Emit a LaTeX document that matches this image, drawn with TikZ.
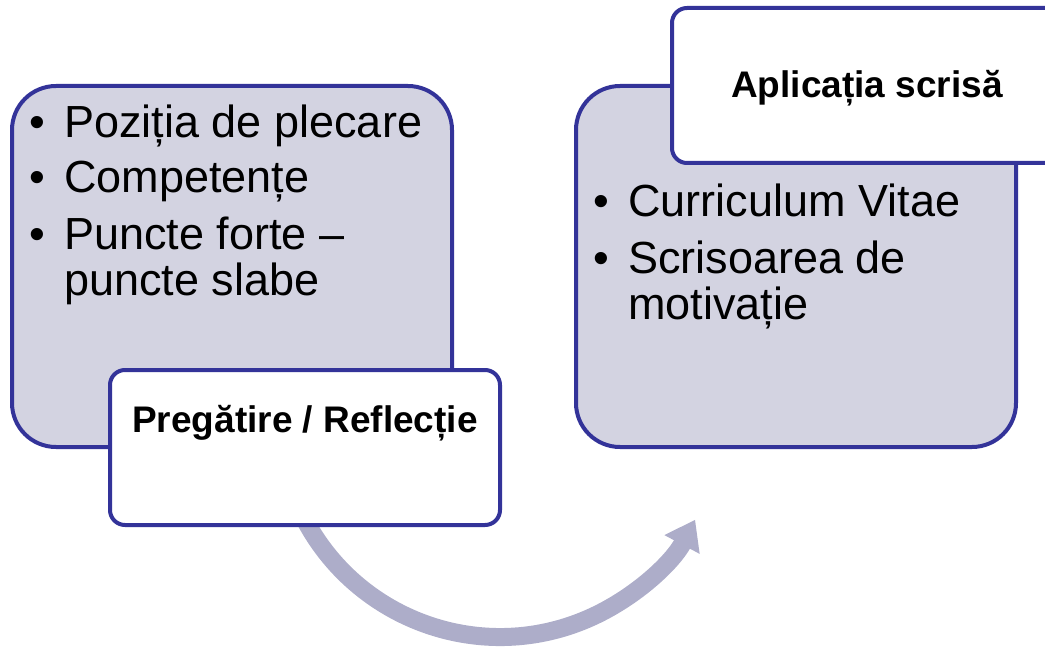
\documentclass[tikz,border=0pt]{standalone}
\usepackage{fontspec}
\setmainfont{Liberation Sans}
\usepackage{tikz}
\usetikzlibrary{arrows.meta}
\usetikzlibrary{positioning}
\definecolor{boxfill}{HTML}{D3D3E1}
\definecolor{boxline}{HTML}{333399}
\definecolor{arrowfill}{HTML}{ADADC9}
\newcommand{\bulletitem}[1]{\makebox[17.5pt][l]{\textbullet}#1}
\newcommand{\bulletcont}[1]{\hspace*{17.5pt}#1}

\begin{document}
\begin{tikzpicture}[x=0.5pt,y=-0.5pt,
	bigbox/.style={draw=boxline,line width=2pt,fill=boxfill,rounded corners=22pt,
		minimum width=220pt,minimum height=180.5pt,inner sep=0pt},
	tabbox/.style={draw=boxline,line width=2pt,fill=white,rounded corners=7.5pt,
		minimum width=195pt,minimum height=77.5pt,inner sep=0pt},
	listtext/.style={anchor=base west,inner sep=0pt,font=\fontsize{22.5}{22.5}\selectfont},
	tabtext/.style={anchor=base,inner sep=0pt,font=\fontsize{18.5}{18.5}\selectfont\bfseries}]
	\useasboundingbox (0,0) rectangle (1045,647);
	\clip (0,0) rectangle (1045,647);
	
	% curved arrow behind the boxes
	\coordinate (arcstart) at ([shift={(500,416)}]155:221);
	\draw[arrowfill,line width=9pt,-{Triangle[length=14pt,width=19pt]}]
		(arcstart) arc[start angle=155,end angle=28,radius=221];
	
	% left step
	\node[bigbox] (prepbox) at (232,266.5) {};
	\node[tabbox] (preptab) at (305,447.5) {};
	\node[tabtext] (preplabel) at (305,432) {Pregătire / Reflecție};
	\node[listtext] (preplist) at (29,138) {\begin{tabular}[t]{@{}l@{}}
		\bulletitem{Poziția de plecare}\\[5pt]
		\bulletitem{Competențe}\\[5pt]
		\bulletitem{Puncte forte –}\\
		\bulletcont{puncte slabe}
	\end{tabular}};
	
	% right step
	\node[bigbox] (appbox) at (796,266.5) {};
	\node[tabbox] (apptab) at (867,85.5) {};
	\node[tabtext] (applabel) at (867,98) {Aplicația scrisă};
	\node[listtext] (applist) at (593,217) {\begin{tabular}[t]{@{}l@{}}
		\bulletitem{Curriculum Vitae}\\[5pt]
		\bulletitem{Scrisoarea de}\\
		\bulletcont{motivație}
	\end{tabular}};
\end{tikzpicture}
\end{document}
